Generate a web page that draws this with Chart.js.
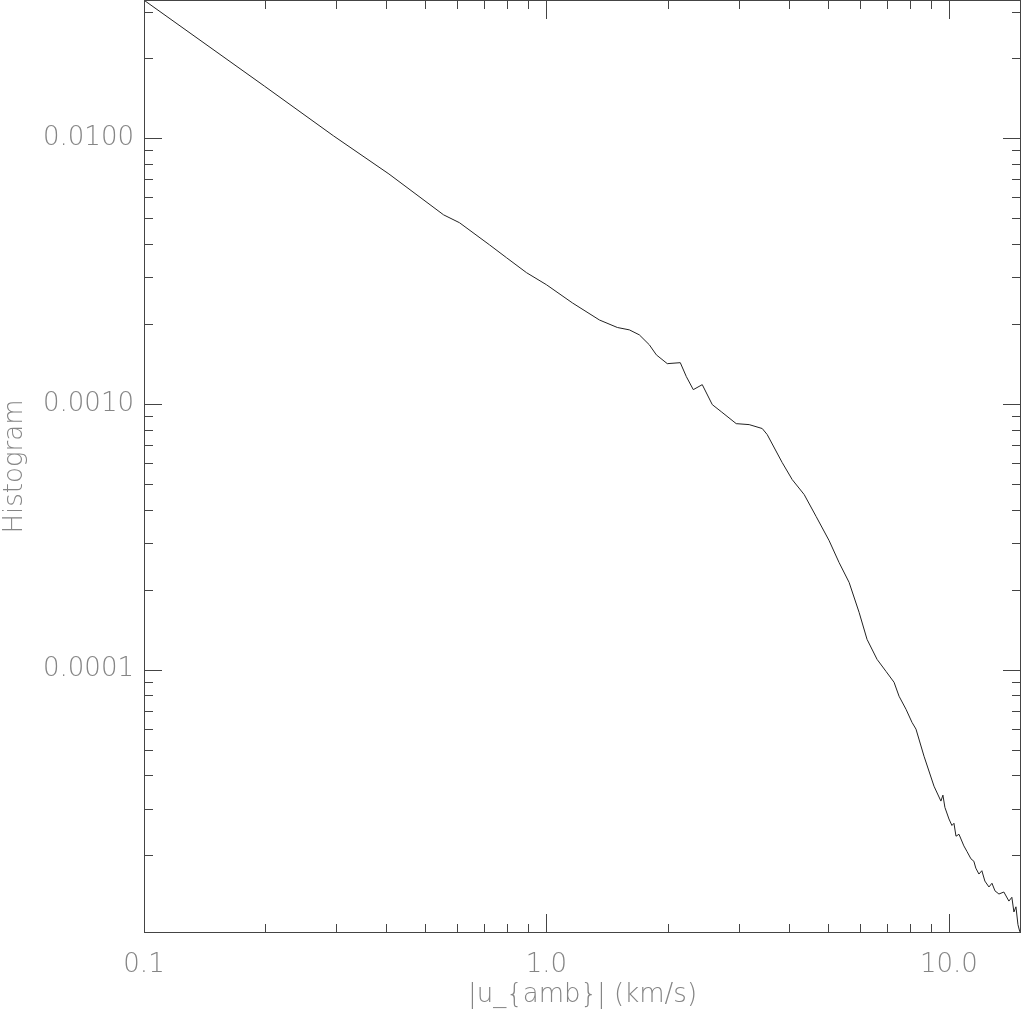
<!DOCTYPE html>
<html>
<head>
<meta charset="utf-8">
<script src="https://cdn.jsdelivr.net/npm/chart.js@4.4.1/dist/chart.umd.min.js"></script>
<style>
html,body{margin:0;padding:0;background:#fff}
canvas{display:block}
</style>
</head>
<body>
<canvas id="chart" width="1021" height="1011"></canvas>
<script>
// |u_amb| (km/s) and histogram values
const speed=[0.1,0.199,0.296,0.406,0.555,0.608,0.722,0.796,0.892,1.0,1.16,1.354,1.5,1.607,1.701,1.801,1.875,1.996,2.15,2.226,2.316,2.438,2.582,2.718,2.961,3.189,3.436,3.535,3.851,4.079,4.368,4.677,5.037,5.333,5.648,5.98,6.258,6.627,6.975,7.304,7.516,7.822,8.094,8.281,8.67,9.18,9.55,9.66,9.77,10.0,10.17,10.29,10.41,10.59,10.89,11.08,11.34,11.53,11.66,11.87,12.07,12.28,12.57,12.79,13.01,13.31,13.69,14.09,14.33,14.5,14.67,14.84,15.0];
const hist=[0.0331,0.01573,0.0102,0.00734,0.00515,0.00481,0.00397,0.00355,0.00312,0.00281,0.0024,0.00207,0.00194,0.0019,0.00182,0.00167,0.00153,0.001418,0.00143,0.001267,0.001132,0.001182,0.000994,0.000935,0.000843,0.000836,0.000808,0.000767,0.000602,0.000519,0.000456,0.000377,0.000306,0.000253,0.000213,0.0001643,0.00013,0.0001093,0.0000985,0.0000896,0.0000794,0.0000709,0.0000633,0.0000597,0.0000472,0.0000364,0.000032,0.0000337,0.0000303,0.0000274,0.0000259,0.0000264,0.0000236,0.000024,0.0000217,0.0000207,0.0000194,0.000019,0.0000179,0.000017,0.0000175,0.000016,0.0000152,0.0000157,0.0000147,0.0000143,0.00001455,0.00001345,0.0000139,0.00001224,0.0000128,0.00001096,0.0000103];
const xRange=[0.1,15.1];
const yRange=[1.02e-5,0.03315];
const xTitle="|u_{amb}| (km/s)";
const yTitle="Histogram";

const axisColor="#444";
const textColor="#858585";
const font={family:"DejaVu Sans",size:26,weight:200};

function mant(v){
 const p=Math.pow(10,Math.floor(Math.log10(v)+1e-9));
 const m=v/p;
 return Math.abs(m-Math.round(m))<1e-6?Math.round(m):0;
}

const frame={
 id:"frame",
 afterDatasetsDraw(c){
  const {ctx,chartArea:a,scales:{x,y}}=c;
  ctx.save();
  ctx.strokeStyle=axisColor;
  ctx.lineWidth=1;
  ctx.strokeRect(a.left+0.5,a.top+0.5,a.right-a.left-1,a.bottom-a.top-1);
  ctx.beginPath();
  x.ticks.forEach(t=>{
   const m=mant(t.value);
   if(!m)return;
   const len=m===1?19:9;
   const px=Math.round(x.getPixelForValue(t.value))+0.5;
   ctx.moveTo(px,a.bottom);ctx.lineTo(px,a.bottom-len);
   ctx.moveTo(px,a.top);ctx.lineTo(px,a.top+len);
  });
  y.ticks.forEach(t=>{
   const m=mant(t.value);
   if(!m)return;
   const len=m===1?18:9;
   const py=Math.round(y.getPixelForValue(t.value))+0.5;
   ctx.moveTo(a.left,py);ctx.lineTo(a.left+len,py);
   ctx.moveTo(a.right,py);ctx.lineTo(a.right-len,py);
  });
  ctx.stroke();
  ctx.restore();
 }
};

new Chart(document.getElementById("chart"),{
 type:"line",
 data:{datasets:[{
  data:speed.map((v,i)=>({x:v,y:hist[i]})),
  borderColor:"#222",borderWidth:1,pointRadius:0,tension:0,fill:false
 }]},
 options:{
  responsive:false,animation:false,devicePixelRatio:1,
  layout:{padding:0},
  plugins:{legend:{display:false},tooltip:{enabled:false}},
  scales:{
   x:{type:"logarithmic",min:xRange[0],max:xRange[1],
    grid:{display:false,drawTicks:false},border:{display:false},
    ticks:{autoSkip:false,maxRotation:0,padding:17,color:textColor,font:font,
     callback:v=>mant(v)===1?v.toFixed(1):""},
    title:{display:true,text:xTitle,color:textColor,font:font,padding:0},
    afterFit:s=>{s.height=78;s.paddingLeft=0;s.paddingRight=0;}
   },
   y:{type:"logarithmic",min:yRange[0],max:yRange[1],
    grid:{display:false,drawTicks:false},border:{display:false},
    ticks:{autoSkip:false,padding:10,color:textColor,font:font,
     callback:v=>mant(v)===1?v.toFixed(4):""},
    title:{display:true,text:yTitle,color:textColor,font:font,padding:0},
    afterFit:s=>{s.width=144;s.paddingTop=0;s.paddingBottom=0;}
   }
  }
 },
 plugins:[frame]
});
</script>
</body>
</html>
